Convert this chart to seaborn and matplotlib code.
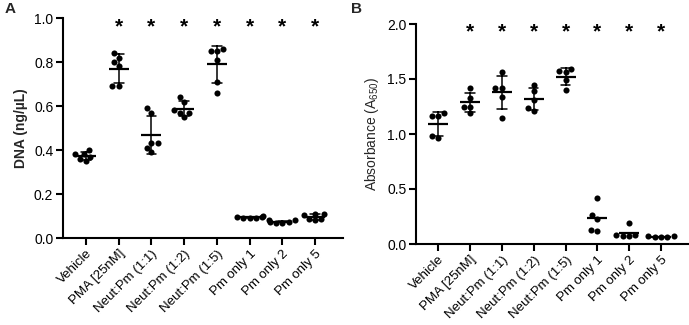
import numpy as np
import pandas as pd
import matplotlib
matplotlib.use("Agg")
import matplotlib.pyplot as plt
import seaborn as sns

categories = ["Vehicle", "PMA [25nM]", "Neut:Pm (1:1)", "Neut:Pm (1:2)",
              "Neut:Pm (1:5)", "Pm only 1", "Pm only 2", "Pm only 5"]

# Panel A: DNA (ng/uL)
dna_vehicle = [0.40, 0.38, 0.35, 0.38, 0.36, 0.37]
dna_pma = [0.84, 0.82, 0.80, 0.78, 0.69, 0.69]
dna_np11 = [0.59, 0.57, 0.43, 0.43, 0.39, 0.41]
dna_np12 = [0.64, 0.62, 0.58, 0.57, 0.55, 0.57]
dna_np15 = [0.86, 0.85, 0.85, 0.81, 0.71, 0.66]
dna_pm1 = [0.09, 0.095, 0.10, 0.09, 0.095, 0.09]
dna_pm2 = [0.07, 0.075, 0.08, 0.07, 0.08, 0.075]
dna_pm5 = [0.11, 0.105, 0.11, 0.085, 0.08, 0.085]

# Panel B: Absorbance (A650)
abs_vehicle = [1.19, 1.16, 1.16, 0.96, 0.98]
abs_pma = [1.42, 1.33, 1.25, 1.25, 1.19]
abs_np11 = [1.56, 1.42, 1.42, 1.34, 1.15]
abs_np12 = [1.45, 1.39, 1.31, 1.24, 1.21]
abs_np15 = [1.59, 1.57, 1.56, 1.49, 1.40]
abs_pm1 = [0.42, 0.26, 0.23, 0.13, 0.12]
abs_pm2 = [0.19, 0.08, 0.07, 0.07, 0.08]
abs_pm5 = [0.07, 0.06, 0.07, 0.065, 0.06]

sig_a = categories[1:]
sig_b = categories[1:]
no_err_b = ["Pm only 1", "Pm only 2", "Pm only 5"]

yticks_a = [0.0, 0.2, 0.4, 0.6, 0.8, 1.0]
yticks_b = [0.0, 0.5, 1.0, 1.5, 2.0]

def to_df(groups):
    rows = []
    for cat, vals in zip(categories, groups):
        for v in vals:
            rows.append((cat, v))
    return pd.DataFrame(rows, columns=["group", "value"])

df_a = to_df([dna_vehicle, dna_pma, dna_np11, dna_np12, dna_np15, dna_pm1, dna_pm2, dna_pm5])
df_b = to_df([abs_vehicle, abs_pma, abs_np11, abs_np12, abs_np15, abs_pm1, abs_pm2, abs_pm5])

sns.set_theme(style="ticks")
plt.rcParams["font.family"] = ["Liberation Sans", "DejaVu Sans"]
plt.rcParams["mathtext.fontset"] = "custom"
plt.rcParams["mathtext.rm"] = "Liberation Sans"

fig = plt.figure(figsize=(6.89, 3.25), dpi=100)
ax_a = fig.add_axes([63/689, 1-238/325, (343-63)/689, (238-18)/325])
ax_b = fig.add_axes([416/689, 1-244/325, (688-416)/689, (244-24)/325])

def draw(ax, df, yticks, ylim, star_y, sigs, no_err, ylabel, bold):
    sns.swarmplot(data=df, x="group", y="value", order=categories, color="black",
                  size=4.4, ax=ax, zorder=3)
    err_df = df[~df["group"].isin(no_err)]
    sns.pointplot(data=err_df, x="group", y="value", order=categories, errorbar="sd",
                  estimator="mean", color="black", linestyle="none", marker="_",
                  markersize=15, markeredgewidth=1.6, capsize=0.3, err_kws={"linewidth": 1.1},
                  ax=ax, zorder=4)
    if no_err:
        ne_df = df[df["group"].isin(no_err)]
        sns.pointplot(data=ne_df, x="group", y="value", order=categories, errorbar=None,
                      estimator="mean", color="black", linestyle="none", marker="_",
                      markersize=15, markeredgewidth=1.6, ax=ax, zorder=4)
    for c in sigs:
        ax.text(categories.index(c), star_y, "*", ha="center", va="center",
                fontsize=15, fontweight="bold", color="black")
    ax.set_ylim(*ylim)
    ax.set_xlim(-0.7, 7.85)
    ax.set_yticks(yticks)
    ax.set_yticklabels([f"{t:.1f}" for t in yticks], fontsize=10)
    ax.set_xticks(range(len(categories)))
    ax.set_xticklabels(categories, rotation=45, ha="right", rotation_mode="anchor", fontsize=9.5)
    ax.set_xlabel("")
    ax.set_ylabel(ylabel, fontsize=10, fontweight="bold" if bold else "normal", labelpad=4)
    sns.despine(ax=ax)
    for s in ["left", "bottom"]:
        ax.spines[s].set_linewidth(1.5)
        ax.spines[s].set_color("black")
    ax.tick_params(axis="both", width=1.5, length=5, color="black", labelcolor="black")
    ax.tick_params(axis="x", pad=2)
    ax.tick_params(axis="y", pad=2)
    ax.patch.set_alpha(0)

draw(ax_a, df_a, yticks_a, (0, 1.0), 0.96, sig_a, [], "DNA (ng/µL)", True)
draw(ax_b, df_b, yticks_b, (0, 2.0), 1.93, sig_b, no_err_b, "Absorbance (A$_{\\mathregular{650}}$)", False)

fig.text(5/689, 1-9/325, "A", fontsize=11, fontweight="bold", va="center", ha="left")
fig.text(351/689, 1-9/325, "B", fontsize=11, fontweight="bold", va="center", ha="left")

fig.savefig("out.png", dpi=100)
